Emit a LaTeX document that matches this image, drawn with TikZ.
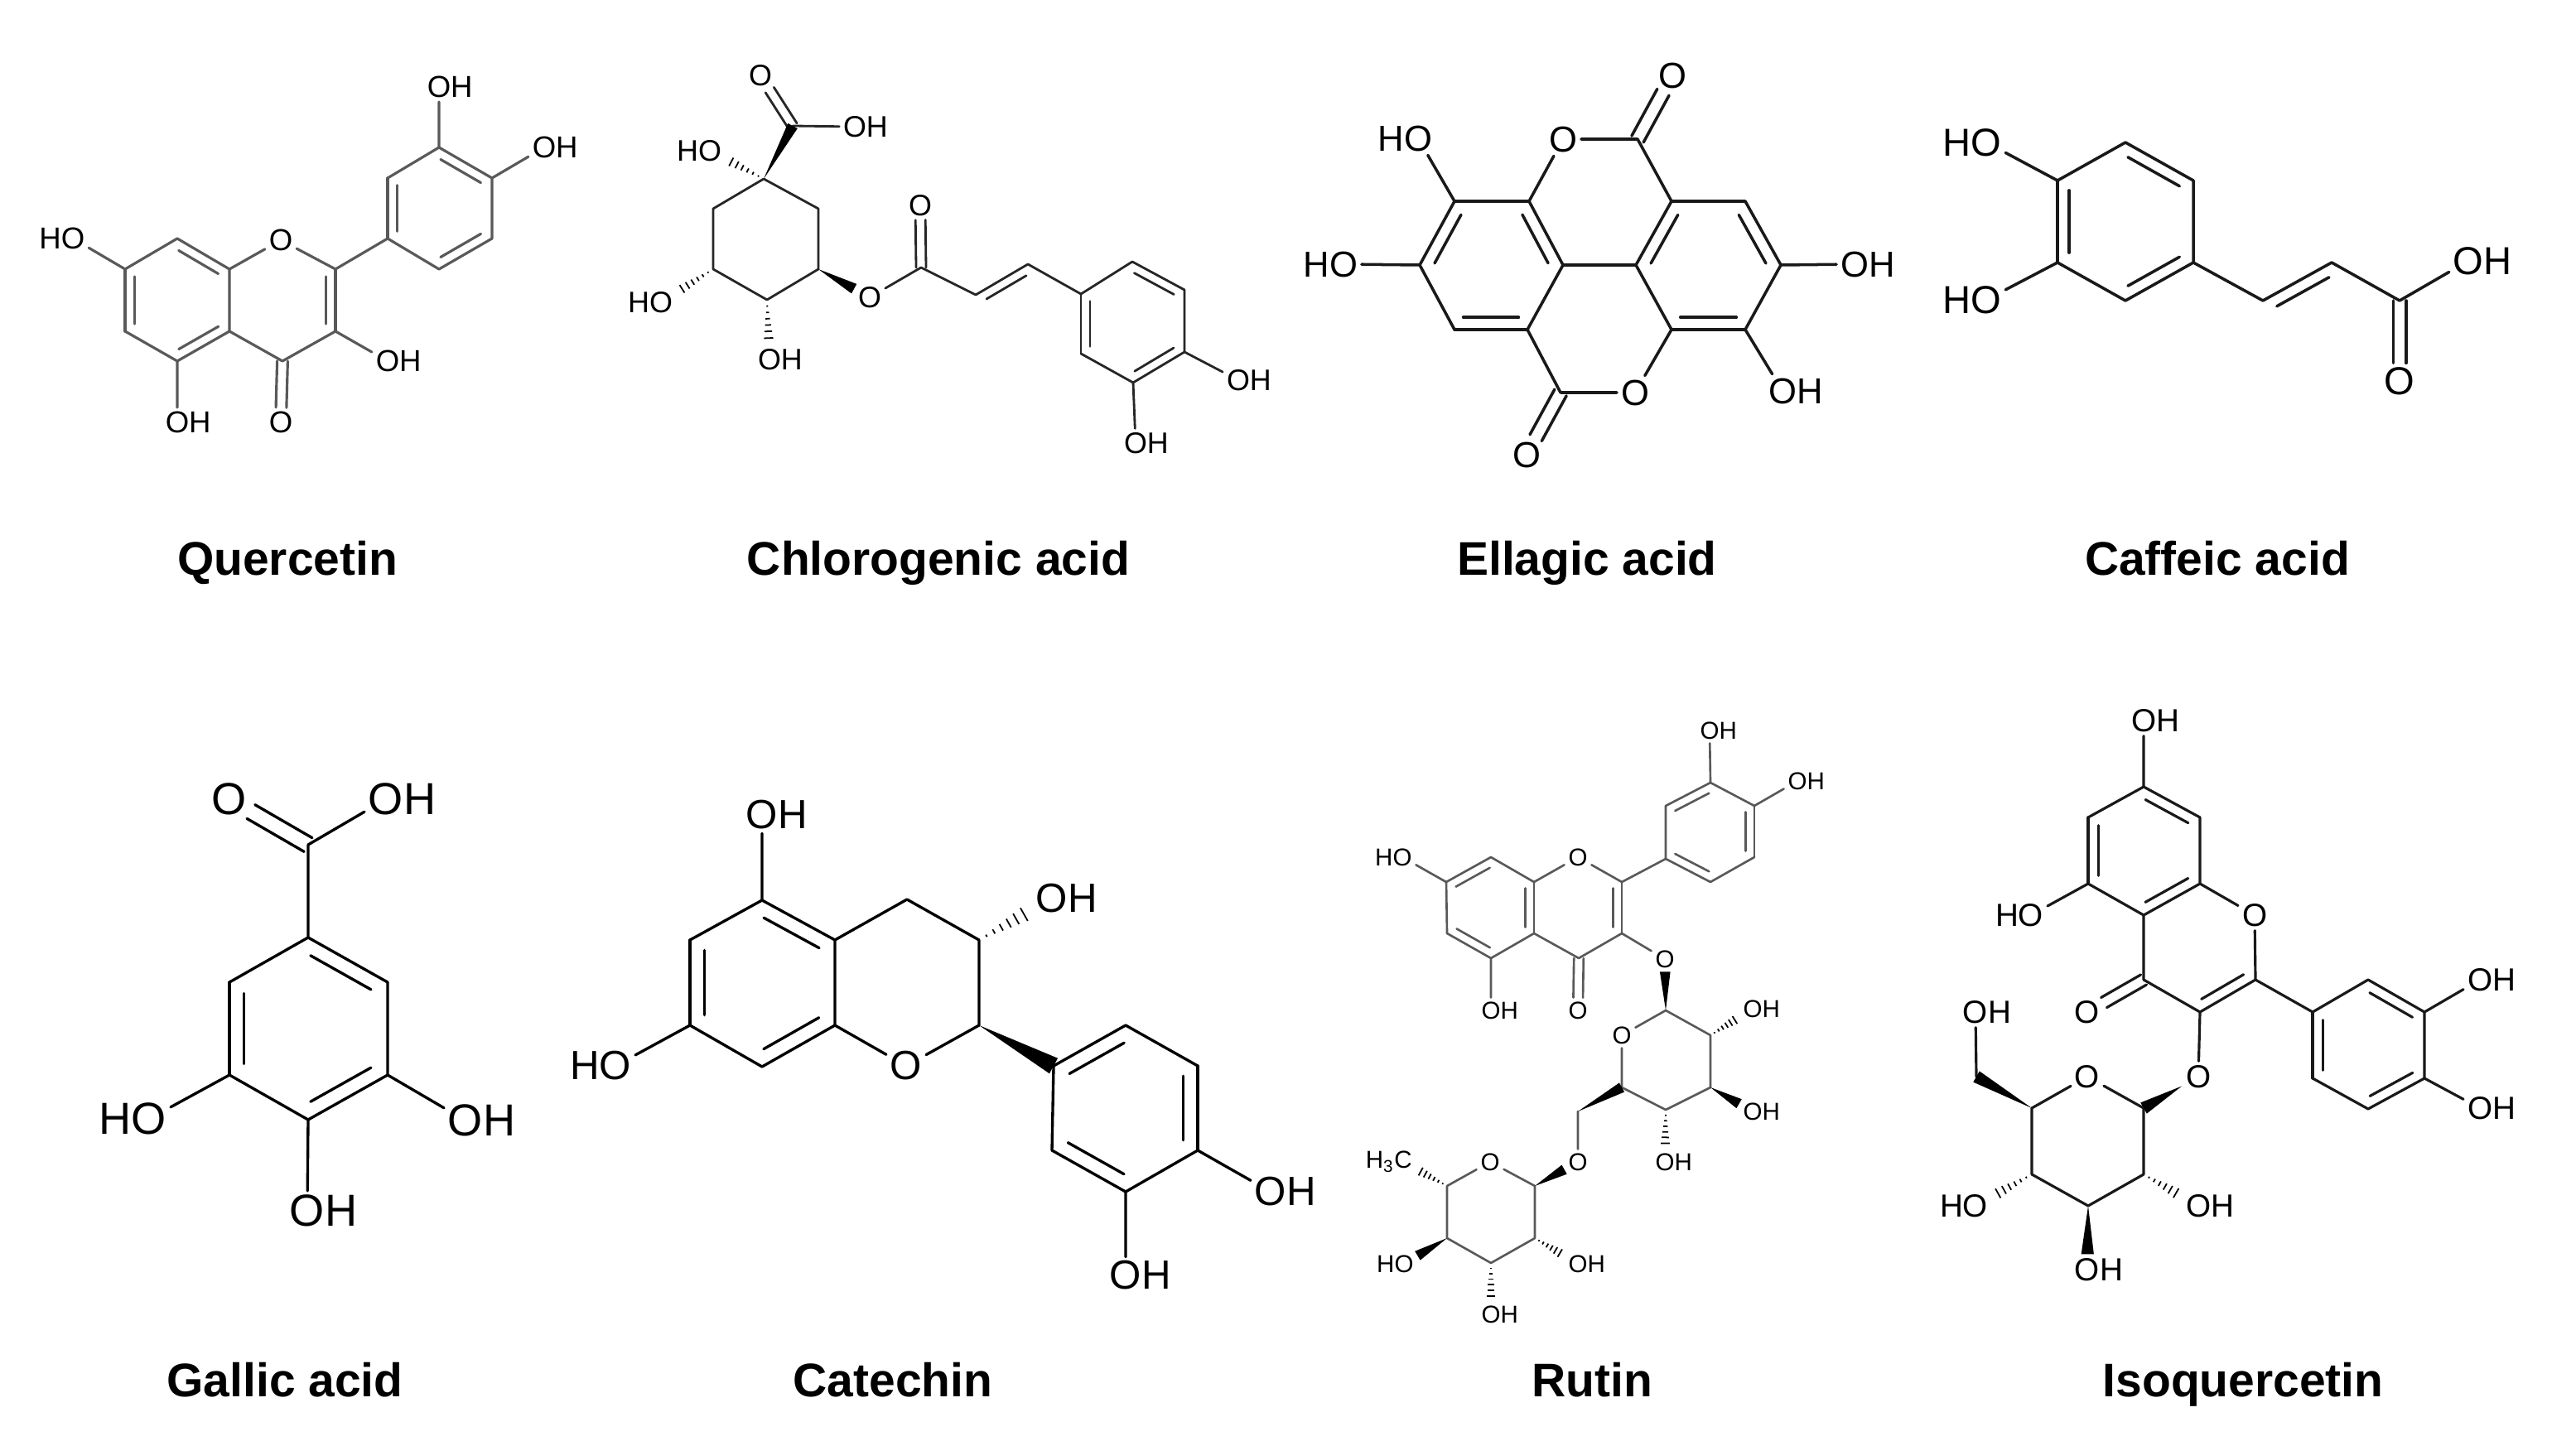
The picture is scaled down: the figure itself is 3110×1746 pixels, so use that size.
\documentclass[tikz,border=0pt]{standalone}
\usepackage{fontspec}
\setmainfont{Liberation Sans}
\usetikzlibrary{calc}
\newcommand{\ohgroup}{O\rlap{H}}
\newcommand{\hogroup}{\llap{H}O}
\newcommand{\molstyle}[4]{\def\atomsize{#1}\def\dblgap{#2}\def\bondwidth{#3}\def\bondcolor{#4}}
\newcommand{\dblbond}[2]{
  \draw[bond] (#1) -- (#2);
  \draw[bond] ($(#1)!.12!(#2)!\dblgap!90:(#2)$) -- ($(#2)!.12!(#1)!\dblgap!-90:(#1)$);
}
\newcommand{\cobond}[2]{
  \path (#1) -- coordinate[pos=1] (tmpend) (#2);
  \draw[bond] ($(#1)!.55*\dblgap!90:(tmpend)$) -- ($(tmpend)!.55*\dblgap!-90:(#1)$);
  \draw[bond] ($(#1)!.55*\dblgap!-90:(tmpend)$) -- ($(tmpend)!.55*\dblgap!90:(#1)$);
}
\newcommand{\wedgebond}[2]{
  \path (#1) -- coordinate[pos=0] (tmpstart) coordinate[pos=1] (tmpend) (#2);
  \fill[black] (tmpstart) -- ($(tmpend)!.6*\dblgap!90:(tmpstart)$) -- ($(tmpend)!.6*\dblgap!-90:(tmpstart)$) -- cycle;
}
\newcommand{\hashbond}[2]{
  \path (#1) -- coordinate[pos=1] (tmpend) (#2);
  \foreach \t in {.14,.28,.42,.56,.7,.85,1}
    \draw[hash] ($(#1)!\t!(tmpend)!\t*.6*\dblgap!90:(tmpend)$) -- ($(#1)!\t!(tmpend)!\t*.6*\dblgap!-90:(tmpend)$);
}
\tikzset{
  bond/.style={
    line width=\bondwidth,
    draw=\bondcolor,
    line cap=round,
    line join=round
    },
  hash/.style={
    line width=.5pt,
    draw=black
    },
  atom/.style={
    inner sep=1.2pt,
    font=\fontsize{\atomsize}{\atomsize}\selectfont
    },
  molname/.style={
    anchor=base,
    font=\fontsize{16.2}{18}\selectfont\bfseries
    }
}
\begin{document}
\begin{tikzpicture}[x=0.01cm,y=-0.01cm]
\useasboundingbox (0,0) rectangle (3110,1746);
\node (namequer) [molname] at (347,694) {Quercetin};
\node (namechlo) [molname] at (1133,694) {Chlorogenic acid};
\node (nameella) [molname] at (1916,694) {Ellagic acid};
\node (namecaff) [molname] at (2677,694) {Caffeic acid};
\node (namegall) [molname] at (344,1686) {Gallic acid};
\node (namecate) [molname] at (1078,1686) {Catechin};
\node (namerut) [molname] at (1922,1686) {Rutin};
\node (nameiso) [molname] at (2708,1686) {Isoquercetin};

\molstyle{10.4}{3.3pt}{.9pt}{black!65}
\coordinate (a7) at (151,325);
\coordinate (a8) at (214,288);
\coordinate (a8a) at (277,325);
\coordinate (a4a) at (277,400);
\coordinate (a5) at (214,436);
\coordinate (a6) at (151,400);
\coordinate (a2) at (405,325);
\coordinate (a3) at (405,400);
\coordinate (a4) at (341,436);
\coordinate (b1) at (468,288);
\coordinate (b2) at (468,215);
\coordinate (b3) at (530,178);
\coordinate (b4) at (594,215);
\coordinate (b5) at (594,288);
\coordinate (b6) at (530,325);
\node (qo1) [atom] at (339,290) {O};
\node (qo4) [atom] at (339,510) {O};
\node (qoh3) [atom] at (468,436) {\ohgroup};
\node (qoh5) [atom] at (214,510) {\ohgroup};
\node (qho7) [atom] at (88,288) {\hogroup};
\node (qoh3p) [atom] at (530,105) {\ohgroup};
\node (qoh4p) [atom] at (657,178) {\ohgroup};
\draw[bond] (a7) -- (a8) (a6) -- (a5) (a8a) -- (a4a) (a8a) -- (qo1) (qo1) -- (a2) (a3) -- (a4) (a4) -- (a4a) (a2) -- (b1);
\draw[bond] (b1) -- (b6) (b2) -- (b3) (b4) -- (b5) (a3) -- (qoh3) (a5) -- (qoh5) (a7) -- (qho7) (b3) -- (qoh3p) (b4) -- (qoh4p);
\dblbond{a7}{a6}
\dblbond{a8a}{a8}
\dblbond{a5}{a4a}
\dblbond{a3}{a2}
\dblbond{b2}{b1}
\dblbond{b4}{b3}
\dblbond{b6}{b5}
\cobond{a4}{qo4}

\molstyle{10.2}{3.1pt}{.8pt}{black!85}
\coordinate (c1) at (922,216);
\coordinate (c2) at (988,252);
\coordinate (c3) at (988,325);
\coordinate (c4) at (926,362);
\coordinate (c5) at (861,325);
\coordinate (c6) at (861,252);
\coordinate (cc) at (957,152);
\coordinate (cest) at (1112,323);
\coordinate (d1) at (1178,356);
\coordinate (d2) at (1241,319);
\coordinate (e1) at (1305,355);
\coordinate (e2) at (1305,427);
\coordinate (e3) at (1368,462);
\coordinate (e4) at (1430,425);
\coordinate (e5) at (1430,350);
\coordinate (e6) at (1367,316);
\node (co1) [atom] at (918,91) {O};
\node (coh1) [atom] at (1032,153) {\ohgroup};
\node (cho1) [atom] at (857,182) {\hogroup};
\node (cho5) [atom] at (798,365) {\hogroup};
\node (coh4) [atom] at (929,434) {\ohgroup};
\node (co3) [atom] at (1050,359) {O};
\node (co2) [atom] at (1111,248) {O};
\node (cohe4) [atom] at (1495,459) {\ohgroup};
\node (cohe3) [atom] at (1371,535) {\ohgroup};
\draw[bond] (c1) -- (c2) -- (c3) -- (c4) -- (c5) -- (c6) -- (c1);
\draw[bond] (cc) -- (coh1) (co3) -- (cest) (cest) -- (d1) (d2) -- (e1);
\draw[bond] (e2) -- (e3) (e4) -- (e5) (e6) -- (e1) (e4) -- (cohe4) (e3) -- (cohe3);
\dblbond{d2}{d1}
\dblbond{e1}{e2}
\dblbond{e3}{e4}
\dblbond{e5}{e6}
\cobond{cc}{co1}
\cobond{cest}{co2}
\wedgebond{c1}{cc}
\wedgebond{c3}{co3}
\hashbond{c1}{cho1}
\hashbond{c5}{cho5}
\hashbond{c4}{coh4}

\molstyle{12.4}{4.2pt}{1pt}{black!90}
\coordinate (f1) at (1756,243);
\coordinate (f2) at (1714,320);
\coordinate (f3) at (1756,398);
\coordinate (f4) at (1844,398);
\coordinate (f5) at (1887,320);
\coordinate (f6) at (1846,243);
\coordinate (g1) at (1975,320);
\coordinate (g2) at (2018,243);
\coordinate (g3) at (2107,243);
\coordinate (g4) at (2150,320);
\coordinate (g5) at (2107,398);
\coordinate (g6) at (2018,398);
\coordinate (gct) at (1977,168);
\coordinate (gcb) at (1884,474);
\node (got) [atom] at (1887,168) {O};
\node (gob) [atom] at (1974,474) {O};
\node (goct) [atom] at (2019,91) {O};
\node (gocb) [atom] at (1843,549) {O};
\node (ghof1) [atom] at (1712,167) {\hogroup};
\node (ghof2) [atom] at (1622,319) {\hogroup};
\node (gohg4) [atom] at (2239,319) {\ohgroup};
\node (gohg5) [atom] at (2152,472) {\ohgroup};
\draw[bond] (f1) -- (f6) (f2) -- (f3) (f4) -- (f5) (f5) -- (g1) (g1) -- (g6) (g2) -- (g3) (g4) -- (g5);
\draw[bond] (f6) -- (got) (got) -- (gct) (gct) -- (g2) (f4) -- (gcb) (gcb) -- (gob) (gob) -- (g6);
\draw[bond] (f1) -- (ghof1) (f2) -- (ghof2) (g4) -- (gohg4) (g5) -- (gohg5);
\dblbond{f1}{f2}
\dblbond{f3}{f4}
\dblbond{f5}{f6}
\dblbond{g2}{g1}
\dblbond{g6}{g5}
\dblbond{g4}{g3}
\cobond{gct}{goct}
\cobond{gcb}{gocb}

\molstyle{13.4}{4pt}{1pt}{black!90}
\coordinate (h1) at (2484,218);
\coordinate (h2) at (2484,317);
\coordinate (h3) at (2566,363);
\coordinate (h4) at (2648,317);
\coordinate (h5) at (2648,218);
\coordinate (h6) at (2566,172);
\coordinate (i1) at (2732,363);
\coordinate (i2) at (2815,317);
\coordinate (i3) at (2897,363);
\node (hho1) [atom] at (2398,172) {\hogroup};
\node (hho2) [atom] at (2398,362) {\hogroup};
\node (ho1) [atom] at (2897,460) {O};
\node (hoh1) [atom] at (2980,315) {\ohgroup};
\draw[bond] (h2) -- (h3) (h4) -- (h5) (h6) -- (h1) (h4) -- (i1) (i2) -- (i3) (h1) -- (hho1) (h2) -- (hho2) (i3) -- (hoh1);
\dblbond{h1}{h2}
\dblbond{h3}{h4}
\dblbond{h5}{h6}
\dblbond{i2}{i1}
\cobond{i3}{ho1}

\molstyle{15.4}{5pt}{.95pt}{black}
\coordinate (j1) at (372,1132);
\coordinate (j2) at (468,1186);
\coordinate (j3) at (468,1298);
\coordinate (j4) at (372,1352);
\coordinate (j5) at (277,1298);
\coordinate (j6) at (277,1186);
\coordinate (jc) at (372,1020);
\node (jo1) [atom] at (277,965) {O};
\node (joh1) [atom] at (466,965) {\ohgroup};
\node (jho5) [atom] at (180,1351) {\hogroup};
\node (joh3) [atom] at (562,1353) {\ohgroup};
\node (joh4) [atom] at (371,1462) {\ohgroup};
\draw[bond] (j2) -- (j3) (j4) -- (j5) (j6) -- (j1) (j1) -- (jc) (jc) -- (joh1) (j5) -- (jho5) (j3) -- (joh3) (j4) -- (joh4);
\dblbond{j6}{j5}
\dblbond{j4}{j3}
\dblbond{j2}{j1}
\cobond{jc}{jo1}

\molstyle{14}{5pt}{.95pt}{black}
\coordinate (k1) at (920,1087);
\coordinate (k2) at (1008,1135);
\coordinate (k3) at (1008,1238);
\coordinate (k4) at (920,1288);
\coordinate (k5) at (833,1238);
\coordinate (k6) at (833,1135);
\coordinate (l1) at (1095,1086);
\coordinate (l2) at (1182,1135);
\coordinate (l3) at (1182,1238);
\coordinate (m1) at (1272,1287);
\coordinate (m2) at (1359,1238);
\coordinate (m3) at (1446,1287);
\coordinate (m4) at (1446,1389);
\coordinate (m5) at (1359,1439);
\coordinate (m6) at (1270,1389);
\node (ko1) [atom] at (1094,1287) {O};
\node (koh1) [atom] at (920,984) {\ohgroup};
\node (koh2) [atom] at (1270,1085) {\ohgroup};
\node (kho5) [atom] at (743,1287) {\hogroup};
\node (koh4) [atom] at (1534,1439) {\ohgroup};
\node (koh5) [atom] at (1359,1540) {\ohgroup};
\draw[bond] (k1) -- (k6) (k2) -- (k3) (k4) -- (k5) (k2) -- (l1) (l1) -- (l2) (l2) -- (l3) (l3) -- (ko1) (ko1) -- (k3);
\draw[bond] (k1) -- (koh1) (k5) -- (kho5) (m2) -- (m3) (m4) -- (m5) (m6) -- (m1) (m4) -- (koh4) (m5) -- (koh5);
\dblbond{k2}{k1}
\dblbond{k4}{k3}
\dblbond{k6}{k5}
\dblbond{m2}{m1}
\dblbond{m6}{m5}
\dblbond{m4}{m3}
\wedgebond{l3}{m1}
\hashbond{l2}{koh2}

\molstyle{8.4}{3pt}{.75pt}{black!65}
\coordinate (n7) at (1746,1065);
\coordinate (n8) at (1800,1035);
\coordinate (n8a) at (1852,1065);
\coordinate (n4a) at (1852,1127);
\coordinate (n5) at (1800,1157);
\coordinate (n6) at (1747,1127);
\coordinate (n2) at (1958,1065);
\coordinate (n3) at (1958,1127);
\coordinate (n4) at (1906,1157);
\coordinate (p1) at (2011,1037);
\coordinate (p2) at (2011,973);
\coordinate (p3) at (2065,945);
\coordinate (p4) at (2118,973);
\coordinate (p5) at (2118,1035);
\coordinate (p6) at (2065,1065);
\coordinate (r1) at (2011,1220);
\coordinate (r2) at (2065,1250);
\coordinate (r3) at (2065,1313);
\coordinate (r4) at (2011,1340);
\coordinate (r5) at (1958,1313);
\coordinate (s1) at (1905,1342);
\coordinate (t1) at (1853,1432);
\coordinate (t2) at (1853,1495);
\coordinate (t3) at (1800,1525);
\coordinate (t4) at (1747,1495);
\coordinate (t5) at (1747,1432);
\node (no1) [atom] at (1905,1035) {O};
\node (no4) [atom] at (1905,1220) {O};
\node (noh5) [atom] at (1800,1220) {\ohgroup};
\node (nho7) [atom] at (1693,1035) {\hogroup};
\node (no3) [atom] at (2010,1158) {O};
\node (noh3p) [atom] at (2064,882) {\ohgroup};
\node (noh4p) [atom] at (2170,943) {\ohgroup};
\node (ro1) [atom] at (1958,1250) {O};
\node (roh2) [atom] at (2116,1218) {\ohgroup};
\node (roh3) [atom] at (2116,1342) {\ohgroup};
\node (roh4) [atom] at (2010,1403) {\ohgroup};
\node (so1) [atom] at (1905,1403) {O};
\node (to1) [atom] at (1799,1403) {O};
\node (tch3) [atom] at (1694,1403) {\llap{H\textsubscript{3}}C};
\node (tho4) [atom] at (1695,1526) {\hogroup};
\node (toh2) [atom] at (1905,1526) {\ohgroup};
\node (toh3) [atom] at (1800,1587) {\ohgroup};
\draw[bond] (n8a) -- (n8) (n7) -- (n6) (n5) -- (n4a) (n8a) -- (no1) (no1) -- (n2) (n3) -- (n4) (n4) -- (n4a) (n2) -- (p1);
\draw[bond] (p1) -- (p2) (p3) -- (p4) (p5) -- (p6) (n3) -- (no3) (n5) -- (noh5) (n7) -- (nho7) (p3) -- (noh3p) (p4) -- (noh4p);
\draw[bond] (r1) -- (r2) (r2) -- (r3) (r3) -- (r4) (r4) -- (r5) (r5) -- (ro1) (ro1) -- (r1) (s1) -- (so1);
\draw[bond] (t1) -- (t2) (t2) -- (t3) (t3) -- (t4) (t4) -- (t5) (t5) -- (to1) (to1) -- (t1);
\dblbond{n8}{n7}
\dblbond{n6}{n5}
\dblbond{n4a}{n8a}
\dblbond{n3}{n2}
\dblbond{p3}{p2}
\dblbond{p1}{p6}
\dblbond{p5}{p4}
\cobond{n4}{no4}
\wedgebond{r1}{no3}
\wedgebond{r3}{roh3}
\wedgebond{s1}{r5}
\wedgebond{t1}{so1}
\wedgebond{t4}{tho4}
\hashbond{r2}{roh2}
\hashbond{r4}{roh4}
\hashbond{t5}{tch3}
\hashbond{t2}{toh2}
\hashbond{t3}{toh3}

\molstyle{11}{3.6pt}{.9pt}{black!90}
\coordinate (u1) at (2588,950);
\coordinate (u2) at (2656,987);
\coordinate (u3) at (2656,1067);
\coordinate (u4) at (2588,1105);
\coordinate (u5) at (2521,1067);
\coordinate (u6) at (2521,987);
\coordinate (v2) at (2723,1183);
\coordinate (v3) at (2656,1222);
\coordinate (v4) at (2588,1183);
\coordinate (w1) at (2792,1222);
\coordinate (w2) at (2859,1183);
\coordinate (w3) at (2927,1222);
\coordinate (w4) at (2927,1302);
\coordinate (w5) at (2859,1339);
\coordinate (w6) at (2792,1302);
\coordinate (x1) at (2588,1338);
\coordinate (x2) at (2588,1418);
\coordinate (x3) at (2521,1456);
\coordinate (x4) at (2453,1418);
\coordinate (x5) at (2453,1338);
\coordinate (y1) at (2386,1300);
\node (uoh1) [atom] at (2588,870) {\ohgroup};
\node (uho5) [atom] at (2452,1105) {\hogroup};
\node (vo1) [atom] at (2722,1105) {O};
\node (vo4) [atom] at (2520,1222) {O};
\node (woh3) [atom] at (2994,1183) {\ohgroup};
\node (woh4) [atom] at (2994,1338) {\ohgroup};
\node (vo3) [atom] at (2654,1300) {O};
\node (xo5) [atom] at (2520,1300) {O};
\node (yoh1) [atom] at (2385,1222) {\ohgroup};
\node (xoh2) [atom] at (2654,1456) {\ohgroup};
\node (xoh3) [atom] at (2520,1533) {\ohgroup};
\node (xho4) [atom] at (2385,1456) {\hogroup};
\draw[bond] (u1) -- (u6) (u2) -- (u3) (u4) -- (u5) (u5) -- (uho5) (u1) -- (uoh1) (u3) -- (vo1) (vo1) -- (v2) (u4) -- (v4) (v3) -- (v4) (v2) -- (w1);
\draw[bond] (w2) -- (w1) (w3) -- (w4) (w5) -- (w6) (w3) -- (woh3) (w4) -- (woh4) (v3) -- (vo3);
\draw[bond] (x1) -- (x2) (x2) -- (x3) (x3) -- (x4) (x4) -- (x5) (x5) -- (xo5) (xo5) -- (x1) (y1) -- (yoh1);
\dblbond{u2}{u1}
\dblbond{u4}{u3}
\dblbond{u6}{u5}
\dblbond{v3}{v2}
\dblbond{w3}{w2}
\dblbond{w1}{w6}
\dblbond{w5}{w4}
\cobond{v4}{vo4}
\wedgebond{vo3}{x1}
\wedgebond{x5}{y1}
\wedgebond{x3}{xoh3}
\hashbond{x4}{xho4}
\hashbond{x2}{xoh2}
\end{tikzpicture}
\end{document}
